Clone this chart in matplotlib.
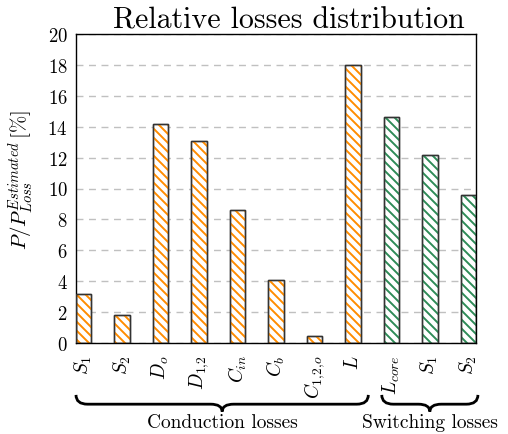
import matplotlib
matplotlib.use("Agg")
import numpy as np
import matplotlib.pyplot as plt
from matplotlib.path import Path
from matplotlib.patches import PathPatch
from matplotlib.collections import LineCollection
from matplotlib.transforms import blended_transform_factory, IdentityTransform

plt.rcParams['mathtext.fontset'] = 'cm'
plt.rcParams['font.family'] = 'serif'
plt.rcParams['font.serif'] = ['cmr10', 'DejaVu Serif']
plt.rcParams['axes.formatter.use_mathtext'] = True

# Loss components and their share of the estimated total loss [%]
conduction_labels = [r'$S_1$', r'$S_2$', r'$D_o$', r'$D_{1{,}2}$', r'$C_{in}$',
                     r'$C_b$', r'$C_{1{,}2{,}o}$', r'$L$']
conduction_values = [3.2, 1.8, 14.2, 13.1, 8.6, 4.1, 0.45, 18.0]
switching_labels = [r'$L_{core}$', r'$S_1$', r'$S_2$']
switching_values = [14.6, 12.2, 9.6]
y_ticks = [0, 2, 4, 6, 8, 10, 12, 14, 16, 18, 20]

orange = '#ff8c00'
green = '#2e8b57'
edge = '#333333'

W, H = 508, 435
fig = plt.figure(figsize=(W / 100, H / 100), dpi=100)
ax = fig.add_axes([76 / W, 1 - 344 / H, 400 / W, 309 / H])

labels = conduction_labels + switching_labels
values = conduction_values + switching_values
colors = [orange] * len(conduction_values) + [green] * len(switching_values)
x = list(range(len(values)))
width = 0.4

ax.set_xlim(-0.2, len(values) - 1 + 0.2)
ax.set_ylim(0, 20)

bars = ax.bar(x, values, width=width, facecolor='white', edgecolor=edge,
              linewidth=1.0, zorder=2)

# diagonal hatching (pixel spacing), clipped to each bar
step = 9.0
cs = np.arange(0, W + H + step, step)
segs = [[(0, c), (W, c - W)] for c in cs]
for b, col in zip(bars, colors):
    lc = LineCollection(segs, colors=col, linewidths=1.4,
                        transform=IdentityTransform(), zorder=2.5)
    ax.add_collection(lc, autolim=False)
    lc.set_clip_path(b)

# bar outlines on top of the hatching
ax.bar(x, values, width=width, fill=False, edgecolor=edge,
       linewidth=1.0, zorder=3)

ax.set_xlim(-0.2, len(values) - 1 + 0.2)
ax.set_ylim(0, 20)
ax.set_yticks(y_ticks)
ax.set_xticks(x)
ax.set_xticklabels(labels, rotation=90, fontsize=14)
ax.tick_params(axis='y', labelsize=13.5, length=0, pad=6)
ax.tick_params(axis='x', length=0, pad=8)
ax.yaxis.grid(True, linestyle=(0, (5, 4)), color='#c0c0c0', linewidth=1.0, zorder=0)
ax.set_axisbelow(True)
for s in ax.spines.values():
    s.set_linewidth(1.0)
    s.set_color('black')

ax.set_title('Relative losses distribution', fontsize=21.5, pad=5, x=0.531)
ax.set_ylabel(r'$P/P_{Loss}^{Estimated}\,[\%]$', fontsize=15)
ax.yaxis.set_label_coords(-0.1, 0.53)


def brace(ax, x0, x1, y_end, y_mid, y_tip, r=0.3):
    xm = (x0 + x1) / 2
    verts = [(x0, y_end), (x0, y_mid), (x0 + r, y_mid),
             (xm - r, y_mid), (xm, y_mid), (xm, y_tip),
             (xm, y_mid), (xm + r, y_mid),
             (x1 - r, y_mid), (x1, y_mid), (x1, y_end)]
    codes = [Path.MOVETO, Path.CURVE3, Path.CURVE3,
             Path.LINETO, Path.CURVE3, Path.CURVE3,
             Path.CURVE3, Path.CURVE3,
             Path.LINETO, Path.CURVE3, Path.CURVE3]
    trans = blended_transform_factory(ax.transData, ax.transAxes)
    ax.add_patch(PathPatch(Path(verts, codes), fill=False, lw=2.0,
                           edgecolor='black', transform=trans, clip_on=False))


brace(ax, -0.2, 7.4, -0.168, -0.198, -0.222)
brace(ax, 7.75, 10.25, -0.168, -0.198, -0.222)
trans = blended_transform_factory(ax.transData, ax.transAxes)
ax.text((-0.2 + 7.4) / 2, -0.255, 'Conduction losses', transform=trans,
        ha='center', va='center', fontsize=14)
ax.text((7.75 + 10.25) / 2, -0.255, 'Switching losses', transform=trans,
        ha='center', va='center', fontsize=14)

fig.savefig('out.png', dpi=100)
